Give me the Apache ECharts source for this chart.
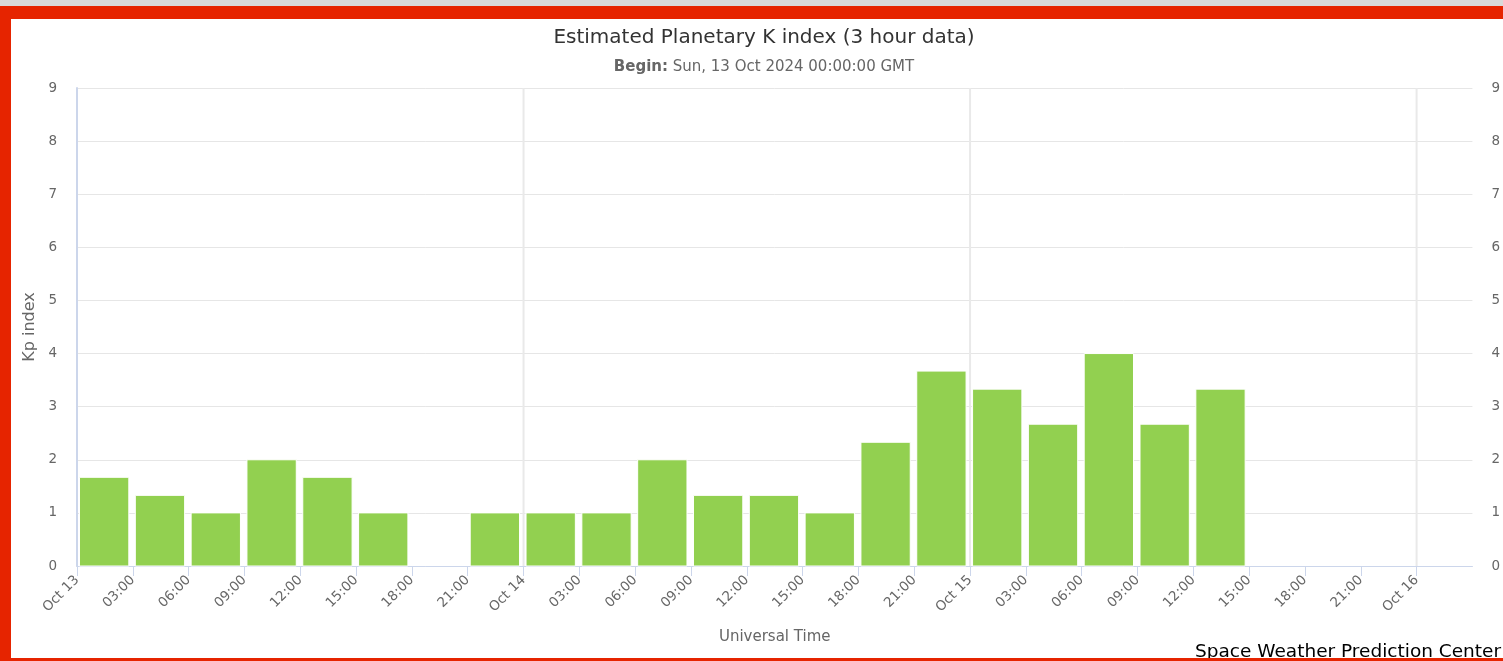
<!DOCTYPE html>
<html>
<head>
<meta charset="utf-8">
<title>Estimated Planetary K index</title>
<script src="https://cdn.jsdelivr.net/npm/echarts@6/dist/echarts.min.js"></script>
<style>
  html, body { margin: 0; padding: 0; background: #ffffff; }
  #chart { width: 1503px; height: 661px; }
</style>
</head>
<body>
<div id="chart"></div>
<script>
// Start of each 3-hour Kp period (UTC) and its estimated Kp value.
const periodStarts = [
  '2024-10-13T00:00Z', '2024-10-13T03:00Z', '2024-10-13T06:00Z', '2024-10-13T09:00Z',
  '2024-10-13T12:00Z', '2024-10-13T15:00Z', '2024-10-13T18:00Z', '2024-10-13T21:00Z',
  '2024-10-14T00:00Z', '2024-10-14T03:00Z', '2024-10-14T06:00Z', '2024-10-14T09:00Z',
  '2024-10-14T12:00Z', '2024-10-14T15:00Z', '2024-10-14T18:00Z', '2024-10-14T21:00Z',
  '2024-10-15T00:00Z', '2024-10-15T03:00Z', '2024-10-15T06:00Z', '2024-10-15T09:00Z',
  '2024-10-15T12:00Z'
];
const kpValues = [
  1.67, 1.33, 1.00, 2.00,
  1.67, 1.00, null, 1.00,
  1.00, 1.00, 2.00, 1.33,
  1.33, 1.00, 2.33, 3.67,
  3.33, 2.67, 4.00, 2.67,
  3.33
];
const kpTicks = [0, 1, 2, 3, 4, 5, 6, 7, 8, 9];
const beginTime = '2024-10-13T00:00Z';
const dayNames = ['Oct 13', 'Oct 14', 'Oct 15', 'Oct 16'];
const periodHours = 3;
const spanHours = 75;

const t0 = Date.parse(beginTime);
const toHours = s => (Date.parse(s) - t0) / 3600000;

const barData = [];
periodStarts.forEach((s, i) => {
  if (kpValues[i] !== null) barData.push([toHours(s), kpValues[i]]);
});
const dayLines = [24, 48, 72].map(h => [h]);
const tickHours = [];
for (let h = 0; h < spanHours; h += periodHours) tickHours.push(h);

const fmtHour = h => {
  if (h % 24 === 0) return dayNames[h / 24];
  const hh = h % 24;
  return (hh < 10 ? '0' : '') + hh + ':00';
};

const FONT = 'DejaVu Sans';
const chart = echarts.init(document.getElementById('chart'), null, { renderer: 'canvas' });

chart.setOption({
  backgroundColor: '#ffffff',
  animation: false,
  title: [
    {
      text: 'Estimated Planetary K index (3 hour data)',
      left: 759, top: 23, textAlign: 'center',
      textStyle: { fontFamily: FONT, fontSize: 20, fontWeight: 'normal', color: '#333333' }
    },
    {
      text: '{b|Begin:} Sun, 13 Oct 2024 00:00:00 GMT',
      left: 759, top: 55, textAlign: 'center',
      textStyle: {
        fontFamily: FONT, fontSize: 15, fontWeight: 'normal', color: '#666666',
        rich: { b: { fontFamily: FONT, fontSize: 15, fontWeight: 'bold', color: '#666666' } }
      }
    }
  ],
  grid: { left: 77, right: 28, top: 88, bottom: 95, containLabel: false },
  xAxis: {
    type: 'value',
    min: 0, max: spanHours, interval: periodHours,
    name: 'Universal Time', nameLocation: 'middle', nameGap: 64,
    nameTextStyle: { fontFamily: FONT, fontSize: 15, color: '#666666' },
    axisLine: { show: true, lineStyle: { color: '#ccd6eb', width: 1 } },
    axisTick: { show: true, length: 10, lineStyle: { color: '#ccd6eb' }, customValues: tickHours },
    axisLabel: {
      rotate: 45, margin: 12, color: '#666666', fontFamily: FONT, fontSize: 13.5,
      customValues: tickHours,
      formatter: v => fmtHour(Math.round(v))
    },
    splitLine: { show: false }
  },
  yAxis: [
    {
      type: 'value', min: 0, max: 9, interval: 1, position: 'left',
      name: 'Kp index', nameLocation: 'middle', nameGap: 34, nameRotate: 90,
      nameTextStyle: { fontFamily: FONT, fontSize: 16, color: '#666666' },
      axisLine: { show: true, lineStyle: { color: '#ccd6eb', width: 2 } },
      axisTick: { show: false },
      axisLabel: { margin: 20, color: '#666666', fontFamily: FONT, fontSize: 13.5,
        formatter: v => String(kpTicks[Math.round(v)]) },
      splitLine: { show: true, lineStyle: { color: '#e6e6e6', width: 1 } }
    },
    {
      type: 'value', min: 0, max: 9, interval: 1, position: 'right',
      axisLine: { show: false },
      axisTick: { show: false },
      axisLabel: { margin: 19, color: '#666666', fontFamily: FONT, fontSize: 13.5,
        formatter: v => String(kpTicks[Math.round(v)]) },
      splitLine: { show: false }
    }
  ],
  series: [
    {
      // vertical guide lines at each day boundary
      type: 'custom',
      silent: true,
      z: 1,
      data: dayLines,
      encode: { x: 0 },
      renderItem: (params, api) => {
        const h = api.value(0);
        const a = api.coord([h, 0]);
        const b = api.coord([h, 9]);
        return {
          type: 'line',
          shape: { x1: a[0], y1: a[1], x2: b[0], y2: b[1] },
          style: { stroke: '#e9e9e9', lineWidth: 2 }
        };
      }
    },
    {
      // one column per 3-hour Kp period, spanning the period on the time scale
      type: 'custom',
      z: 3,
      data: barData,
      encode: { x: 0, y: 1 },
      renderItem: (params, api) => {
        const start = api.value(0);
        const kp = api.value(1);
        const base = api.coord([start, 0]);
        const top = api.coord([start + periodHours, kp]);
        return {
          type: 'rect',
          shape: { x: base[0] + 2.5, y: top[1], width: top[0] - base[0] - 6.5, height: base[1] - top[1] },
          style: { fill: '#92d050', stroke: '#ffffff', lineWidth: 1 }
        };
      }
    }
  ],
  graphic: [
    {
      type: 'text', left: 1195, top: 643, z: 50,
      style: { text: 'Space Weather Prediction Center', fontFamily: FONT, fontSize: 18.5, fill: '#000000' }
    },
    { type: 'rect', left: 0, top: 0, z: 100, shape: { width: 1503, height: 6 }, style: { fill: '#d9d9d9' } },
    { type: 'rect', left: 0, top: 6, z: 100, shape: { width: 1503, height: 13 }, style: { fill: '#e62400' } },
    { type: 'rect', left: 0, top: 6, z: 100, shape: { width: 11, height: 655 }, style: { fill: '#e62400' } },
    { type: 'rect', left: 0, top: 658, z: 100, shape: { width: 1503, height: 3 }, style: { fill: '#e62400' } }
  ]
});
</script>
</body>
</html>
